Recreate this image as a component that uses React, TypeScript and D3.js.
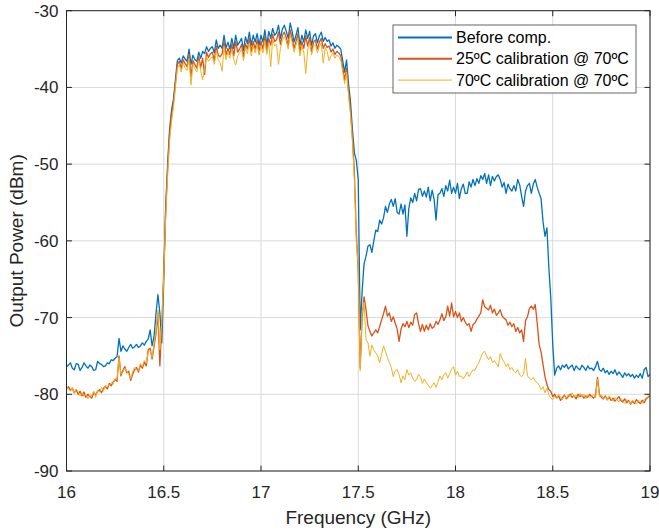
import React from "react";
import * as d3 from "d3";

// Frequency samples: 16.00 GHz to 19.00 GHz in 0.01 GHz steps (301 points)
const FREQ_START = 16.0;
const FREQ_STEP = 0.01;

const beforeComp: number[] = [
  // 16.00 - 16.49
  -76.4, -76.2, -75.9, -76.6, -76.8, -76.0, -76.1, -76.9, -76.5, -75.9,
  -76.3, -76.6, -76.2, -76.4, -76.9, -76.8, -75.7, -76.0, -76.1, -76.4,
  -76.3, -75.9, -76.0, -75.5, -75.6, -75.3, -75.1, -72.7, -74.4, -73.7,
  -74.1, -74.4, -73.9, -73.5, -74.0, -73.8, -73.5, -73.9, -73.7, -73.3,
  -73.6, -73.1, -72.8, -71.6, -73.7, -72.5, -69.5, -67.0, -69.4, -73.3,
  // 16.50 - 16.99
  -65.0, -55.5, -50.0, -45.5, -43.0, -41.5, -39.0, -36.5, -36.2, -36.8,
  -35.9, -36.3, -36.6, -35.0, -37.0, -35.8, -36.4, -36.6, -35.4, -36.2,
  -35.3, -35.6, -34.7, -35.3, -34.9, -34.7, -35.5, -33.8, -34.9, -34.5,
  -34.9, -33.2, -34.9, -34.1, -35.0, -33.6, -34.9, -33.2, -34.5, -34.1,
  -33.6, -35.2, -33.4, -34.3, -32.8, -34.5, -33.2, -34.1, -33.0, -34.5,
  // 17.00 - 17.49
  -33.2, -34.1, -32.5, -34.5, -32.7, -33.6, -32.3, -33.2, -32.9, -31.9,
  -33.6, -32.4, -31.9, -32.7, -33.6, -31.6, -32.7, -34.1, -33.2, -32.2,
  -34.5, -33.2, -34.1, -32.5, -33.6, -32.7, -34.5, -33.3, -33.0, -34.2,
  -33.3, -32.8, -34.0, -33.5, -34.0, -33.8, -34.6, -34.2, -34.9, -34.5,
  -34.7, -35.0, -36.5, -38.0, -36.4, -39.5, -41.8, -45.5, -48.5, -49.5,
  // 17.50 - 17.99
  -52.0, -71.6, -66.5, -63.0, -62.0, -60.7, -60.5, -61.5, -60.0, -58.6,
  -58.8, -57.3, -57.8, -57.0, -55.5, -56.3, -55.2, -54.6, -55.5, -54.5,
  -56.3, -56.5, -55.2, -56.5, -55.3, -59.4, -55.8, -54.4, -55.0, -53.8,
  -54.8, -53.3, -53.2, -54.2, -53.5, -54.3, -53.0, -54.8, -53.4, -54.6,
  -57.3, -54.0, -53.8, -53.2, -54.2, -52.8, -53.5, -52.1, -53.8, -53.0,
  // 18.00 - 18.49
  -53.8, -52.5, -54.5, -53.2, -52.6, -53.8, -53.8, -52.3, -53.0, -52.0,
  -52.8, -51.9, -52.5, -51.5, -52.0, -51.2, -52.5, -51.4, -52.8, -51.6,
  -52.2, -51.6, -51.4, -52.0, -53.0, -52.4, -53.8, -52.6, -53.2, -53.5,
  -52.8, -53.5, -52.0, -52.7, -54.2, -55.5, -53.5, -52.8, -52.5, -53.8,
  -52.6, -52.0, -53.0, -53.8, -54.5, -57.5, -59.4, -58.3, -63.5, -67.5,
  // 18.50 - 18.99
  -73.5, -77.5, -76.6, -76.3, -76.8, -76.2, -76.5, -76.1, -76.7, -76.4,
  -76.2, -76.9, -76.3, -76.6, -76.8, -76.2, -76.5, -76.9, -76.3, -76.7,
  -76.6, -76.9, -76.4, -75.7, -76.8, -77.0, -76.6, -77.2, -76.9, -77.4,
  -77.0, -77.3, -76.8, -77.5, -77.1, -77.4, -77.8, -77.2, -77.6, -77.3,
  -77.7, -77.4, -77.9, -77.5, -77.8, -77.3, -77.9, -76.8, -76.5, -77.7,
  // 19.00
  -77.4,
];

const cal25: number[] = [
  // 16.00 - 16.49
  -79.3, -79.0, -79.5, -79.2, -79.8, -79.4, -80.0, -79.6, -80.2, -79.7,
  -80.4, -80.0, -80.3, -80.5, -79.8, -80.1, -79.6, -79.4, -79.8, -79.2,
  -79.0, -79.3, -78.6, -78.9, -78.4, -78.1, -78.3, -75.0, -77.6, -76.9,
  -76.4, -77.2, -77.0, -78.2, -77.4, -76.8, -76.5, -77.1, -76.2, -76.6,
  -75.8, -76.3, -74.2, -74.0, -75.4, -73.8, -72.2, -69.4, -76.3, -71.0,
  // 16.50 - 16.99
  -64.0, -56.0, -50.5, -46.0, -43.5, -42.0, -39.5, -37.0, -36.6, -37.5,
  -36.4, -36.9, -37.3, -35.7, -38.6, -36.5, -37.0, -37.5, -36.0, -37.4,
  -36.2, -38.3, -35.4, -36.1, -35.6, -35.4, -36.5, -34.6, -35.8, -36.0,
  -35.6, -34.0, -35.8, -34.9, -35.7, -34.4, -35.9, -34.0, -35.4, -35.0,
  -34.4, -36.0, -34.3, -35.0, -33.6, -35.3, -34.0, -35.0, -33.8, -35.3,
  // 17.00 - 17.49
  -34.0, -35.0, -33.3, -35.2, -33.6, -34.5, -33.1, -34.0, -33.8, -32.8,
  -34.4, -33.2, -32.8, -33.5, -34.5, -32.5, -33.6, -34.9, -34.0, -33.0,
  -35.4, -34.0, -34.9, -33.3, -34.6, -33.5, -35.3, -34.1, -33.8, -35.0,
  -34.1, -33.6, -34.9, -34.3, -34.8, -34.6, -35.4, -35.0, -35.7, -35.3,
  -35.5, -35.9, -37.4, -39.0, -37.5, -40.5, -43.0, -46.5, -51.0, -59.0,
  // 17.50 - 17.99
  -64.0, -76.5, -70.0, -67.3, -69.0, -71.1, -71.8, -72.4, -72.0, -71.6,
  -72.0, -71.2, -70.3, -69.5, -68.5, -69.8, -69.4, -70.5, -69.9, -70.7,
  -71.5, -73.1, -71.5, -70.8, -71.2, -70.5, -71.3, -70.6, -71.0, -69.6,
  -69.4, -70.8, -71.8, -70.9, -71.8, -71.0, -71.6, -70.8, -71.4, -71.2,
  -70.5, -70.9, -70.3, -69.5, -70.4, -69.9, -68.5, -69.8, -68.1, -69.9,
  // 18.00 - 18.49
  -69.2, -70.0, -69.4, -70.5, -70.0, -70.6, -71.0, -70.8, -71.8, -70.9,
  -70.7, -70.2, -69.8, -69.4, -67.7, -68.6, -68.8, -69.0, -68.4, -69.4,
  -68.9, -69.7, -69.4, -69.0, -69.8, -70.1, -70.3, -71.0, -70.6, -71.2,
  -70.8, -71.8, -71.3, -72.0, -71.6, -73.1, -70.4, -69.9, -68.8, -68.5,
  -68.9, -68.3, -70.7, -73.5, -74.5, -76.1, -77.7, -78.7, -79.4, -79.6,
  // 18.50 - 18.99
  -80.3, -80.0, -80.5, -80.2, -80.8, -80.4, -80.1, -80.6, -80.3, -80.0,
  -80.4, -80.2, -80.6, -80.0, -80.3, -80.1, -80.5, -80.2, -80.4, -80.0,
  -80.3, -80.5, -80.1, -77.8, -80.0, -80.4, -80.6, -80.2, -80.7, -80.4,
  -80.8, -80.5, -80.9, -80.6, -80.3, -80.8, -81.0, -80.6, -81.1, -80.8,
  -81.3, -80.9, -81.2, -80.7, -81.0, -81.2, -80.8, -81.1, -80.6, -80.4,
  // 19.00
  -80.2,
];

const cal70: number[] = [
  // 16.00 - 16.49
  -79.0, -79.3, -79.6, -79.1, -79.9, -79.3, -79.7, -80.2, -79.8, -80.3,
  -80.0, -80.6, -80.1, -80.2, -79.6, -80.4, -79.5, -79.7, -79.1, -79.6,
  -78.8, -79.0, -78.8, -78.5, -78.7, -77.9, -78.0, -75.3, -77.4, -77.1,
  -76.6, -77.0, -77.4, -78.0, -77.1, -76.5, -76.8, -76.9, -76.0, -76.4,
  -75.6, -76.0, -74.5, -74.3, -75.2, -73.5, -71.8, -69.0, -74.2, -70.5,
  // 16.50 - 16.99
  -64.5, -57.0, -51.5, -47.0, -44.5, -42.5, -40.0, -37.5, -37.0, -38.0,
  -36.8, -37.5, -37.8, -36.2, -39.7, -37.0, -37.6, -38.0, -36.5, -37.8,
  -39.0, -37.5, -36.0, -36.6, -36.2, -36.0, -37.0, -35.2, -36.4, -36.8,
  -37.9, -34.6, -36.4, -35.4, -36.2, -35.0, -36.4, -37.1, -35.9, -35.5,
  -35.0, -36.5, -34.8, -35.6, -34.2, -35.9, -34.6, -35.5, -34.4, -35.8,
  // 17.00 - 17.49
  -34.6, -35.5, -33.9, -35.7, -34.2, -37.3, -33.7, -34.6, -34.4, -37.0,
  -34.9, -33.8, -33.4, -34.0, -35.0, -33.1, -34.2, -35.4, -34.5, -33.6,
  -35.9, -34.6, -35.4, -38.2, -35.1, -34.1, -35.8, -34.6, -34.4, -35.5,
  -34.7, -34.2, -36.8, -34.8, -35.3, -36.5, -35.9, -35.5, -36.2, -35.8,
  -36.0, -36.4, -38.0, -39.5, -38.0, -41.0, -43.5, -47.0, -52.0, -60.0,
  // 17.50 - 17.99
  -63.5, -76.9, -69.5, -68.0, -72.9, -73.3, -75.0, -73.6, -74.2, -74.6,
  -75.0, -75.9, -74.8, -73.7, -74.4, -75.2, -75.9, -76.5, -77.7, -76.9,
  -76.8, -77.4, -78.5, -77.6, -78.1, -76.8, -77.5, -77.2, -77.9, -78.3,
  -78.1, -77.4, -77.7, -78.6, -78.0, -78.5, -78.8, -79.2, -78.9, -78.5,
  -79.1, -78.4, -77.6, -78.1, -77.4, -77.2, -77.9, -77.3, -76.7, -76.4,
  // 18.00 - 18.49
  -77.5, -77.0, -77.7, -77.6, -78.0, -77.6, -77.1, -77.7, -77.2, -76.8,
  -76.9, -76.3, -75.9, -75.2, -74.6, -74.4, -75.0, -75.5, -75.1, -75.9,
  -75.6, -76.0, -76.4, -74.7, -75.4, -75.8, -76.4, -76.0, -76.8, -76.5,
  -77.0, -77.2, -76.8, -77.5, -77.7, -77.4, -75.3, -77.6, -77.9, -78.1,
  -77.8, -78.3, -78.5, -78.8, -79.4, -79.0, -79.8, -79.2, -80.1, -80.5,
  // 18.50 - 18.99
  -80.7, -80.2, -80.6, -80.0, -80.4, -80.7, -80.2, -80.5, -80.0, -80.3,
  -79.8, -80.4, -80.1, -80.5, -79.9, -80.3, -80.0, -80.6, -80.1, -80.4,
  -80.2, -80.0, -80.5, -78.0, -80.3, -80.1, -80.5, -80.3, -80.8, -80.2,
  -80.6, -80.9, -80.4, -80.7, -81.0, -80.5, -80.9, -81.2, -80.7, -81.0,
  -81.2, -80.8, -81.0, -81.3, -80.8, -81.0, -81.2, -80.7, -80.5, -80.3,
  // 19.00
  -80.0,
];

const xTicks = [16, 16.5, 17, 17.5, 18, 18.5, 19];
const yTicks = [-90, -80, -70, -60, -50, -40, -30];
const seriesNames = [
  "Before comp.",
  "25ºC calibration @ 70ºC",
  "70ºC calibration @ 70ºC",
];
const seriesColors = ["#0072BD", "#D95319", "#EDB120"];
const seriesWidths = [1.3, 1.3, 1.0];
const legendWidths = [2, 2, 1];

const W = 659;
const H = 531;
const M = { left: 66.5, right: 650, top: 10.7, bottom: 471 };
const FONT = "'Liberation Sans', Arial, Helvetica, sans-serif";
const AX = "#262626";

export default function App() {
  const x = d3.scaleLinear().domain([16, 19]).range([M.left, M.right]);
  const y = d3.scaleLinear().domain([-90, -30]).range([M.bottom, M.top]);
  const all = [beforeComp, cal25, cal70];
  const line = d3
    .line<number>()
    .x((_, i) => x(FREQ_START + i * FREQ_STEP))
    .y((v) => y(v));
  const tickLen = 5.5;

  return (
    <svg
      width={W}
      height={H}
      style={{ position: "absolute", left: 0, top: 0, background: "#fff" }}
      fontFamily={FONT}
    >
      <rect x={0} y={0} width={W} height={H} fill="#fff" />
      <defs>
        <clipPath id="plotclip">
          <rect x={M.left} y={M.top} width={M.right - M.left} height={M.bottom - M.top} />
        </clipPath>
      </defs>
      {/* grid */}
      <g stroke="#d9d9d9" strokeWidth={1}>
        {xTicks.map((t) => (
          <line key={"gx" + t} x1={x(t)} x2={x(t)} y1={M.top} y2={M.bottom} />
        ))}
        {yTicks.map((t) => (
          <line key={"gy" + t} x1={M.left} x2={M.right} y1={y(t)} y2={y(t)} />
        ))}
      </g>
      {/* data */}
      <g clipPath="url(#plotclip)" fill="none" strokeLinejoin="round">
        {all.map((s, i) => (
          <path key={i} d={line(s) || ""} stroke={seriesColors[i]} strokeWidth={seriesWidths[i]} />
        ))}
      </g>
      {/* axes box & ticks */}
      <g stroke={AX} strokeWidth={1} fill="none">
        <rect x={M.left} y={M.top} width={M.right - M.left} height={M.bottom - M.top} />
        {xTicks.map((t) => (
          <g key={"tx" + t}>
            <line x1={x(t)} x2={x(t)} y1={M.bottom} y2={M.bottom - tickLen} />
            <line x1={x(t)} x2={x(t)} y1={M.top} y2={M.top + tickLen} />
          </g>
        ))}
        {yTicks.map((t) => (
          <g key={"ty" + t}>
            <line x1={M.left} x2={M.left + tickLen} y1={y(t)} y2={y(t)} />
            <line x1={M.right} x2={M.right - tickLen} y1={y(t)} y2={y(t)} />
          </g>
        ))}
      </g>
      {/* tick labels */}
      <g fill={AX} fontSize={17}>
        {xTicks.map((t) => (
          <text key={"lx" + t} x={x(t)} y={498} textAnchor="middle">
            {String(t)}
          </text>
        ))}
        {yTicks.map((t) => (
          <text key={"ly" + t} x={M.left - 8} y={y(t) + 6} textAnchor="end">
            {String(t)}
          </text>
        ))}
      </g>
      {/* axis labels */}
      <text x={(M.left + M.right) / 2} y={524} textAnchor="middle" fontSize={19} fill={AX}>
        Frequency (GHz)
      </text>
      <text
        transform={`translate(23, ${(M.top + M.bottom) / 2}) rotate(-90)`}
        textAnchor="middle"
        fontSize={19}
        fill={AX}
      >
        Output Power (dBm)
      </text>
      {/* legend */}
      <g>
        <rect x={393} y={25} width={243} height={68} fill="#fff" stroke="#555" strokeWidth={0.9} />
        {seriesNames.map((n, i) => {
          const ly = 37.5 + i * 21.3;
          return (
            <g key={n}>
              <line x1={398} x2={452} y1={ly} y2={ly} stroke={seriesColors[i]} strokeWidth={legendWidths[i]} />
              <text x={456} y={ly + 5.5} fontSize={16} fill="#000">
                {n}
              </text>
            </g>
          );
        })}
      </g>
    </svg>
  );
}
